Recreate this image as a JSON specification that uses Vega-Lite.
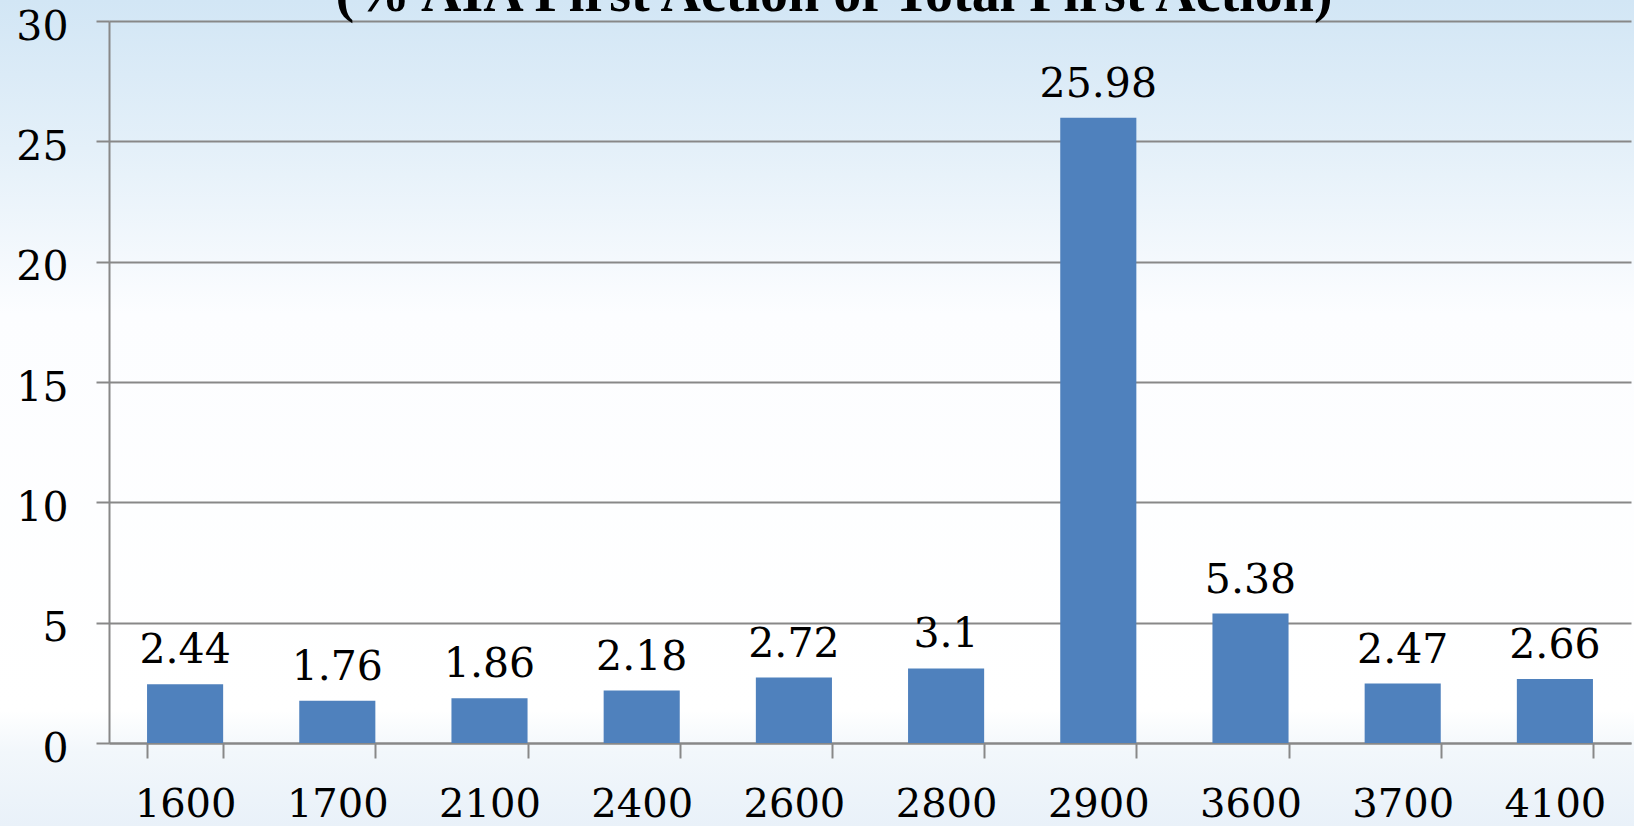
{
  "$schema": "https://vega.github.io/schema/vega-lite/v6.json",
  "width": 1634,
  "height": 826,
  "autosize": {"type": "none"},
  "padding": 0,
  "background": "#ffffff",
  "title": {
    "text": "(% AIA First Action of Total First Action)",
    "font": "Liberation Serif",
    "fontSize": 56,
    "fontWeight": "bold",
    "color": "#000000",
    "frame": "group",
    "anchor": "middle",
    "dx": 17,
    "baseline": "alphabetic",
    "offset": -67
  },
  "config": {
    "view": {
      "stroke": null,
      "fill": {
        "gradient": "linear",
        "x1": 0, "y1": 0, "x2": 0, "y2": 1,
        "stops": [
          {"offset": 0, "color": "#d2e6f5"},
          {"offset": 0.18, "color": "#e4f0f9"},
          {"offset": 0.38, "color": "#fcfdff"},
          {"offset": 0.86, "color": "#ffffff"},
          {"offset": 0.91, "color": "#f2f7fb"},
          {"offset": 1, "color": "#e9f1f9"}
        ]
      }
    }
  },
  "data": {
    "values": [
      {"code": "1600", "value": 2.44},
      {"code": "1700", "value": 1.76},
      {"code": "2100", "value": 1.86},
      {"code": "2400", "value": 2.18},
      {"code": "2600", "value": 2.72},
      {"code": "2800", "value": 3.1},
      {"code": "2900", "value": 25.98},
      {"code": "3600", "value": 5.38},
      {"code": "3700", "value": 2.47},
      {"code": "4100", "value": 2.66}
    ]
  },
  "encoding": {
    "x": {
      "field": "code",
      "type": "nominal",
      "sort": null,
      "scale": {"range": [109, 1631], "paddingInner": 0.5, "paddingOuter": 0.25},
      "axis": {
        "title": null,
        "offset": -83,
        "labelAngle": 0,
        "labelFont": "DejaVu Serif",
        "labelFontSize": 40,
        "labelColor": "#000000",
        "labelPadding": 26,
        "tickBand": "extent",
        "tickSize": 15,
        "tickColor": "#888888",
        "tickWidth": 2,
        "domainColor": "#888888",
        "domainWidth": 2,
        "grid": false
      }
    },
    "y": {
      "field": "value",
      "type": "quantitative",
      "scale": {"domain": [0, 30], "range": [743, 21], "nice": false, "zero": true},
      "axis": {
        "title": null,
        "offset": -109,
        "values": [0, 5, 10, 15, 20, 25, 30],
        "labelFont": "DejaVu Serif",
        "labelFontSize": 41,
        "labelColor": "#000000",
        "labelPadding": 28,
        "labelOffset": 6,
        "tickSize": 13,
        "tickColor": "#888888",
        "tickWidth": 2,
        "domainColor": "#888888",
        "domainWidth": 2,
        "grid": true,
        "gridColor": "#888888",
        "gridWidth": 2
      }
    }
  },
  "layer": [
    {"mark": {"type": "bar", "color": "#4f81bd"}},
    {
      "mark": {
        "type": "text",
        "font": "DejaVu Serif",
        "fontSize": 41,
        "color": "#000000",
        "baseline": "alphabetic",
        "dy": -21
      },
      "encoding": {"text": {"field": "value", "type": "quantitative"}}
    }
  ]
}
